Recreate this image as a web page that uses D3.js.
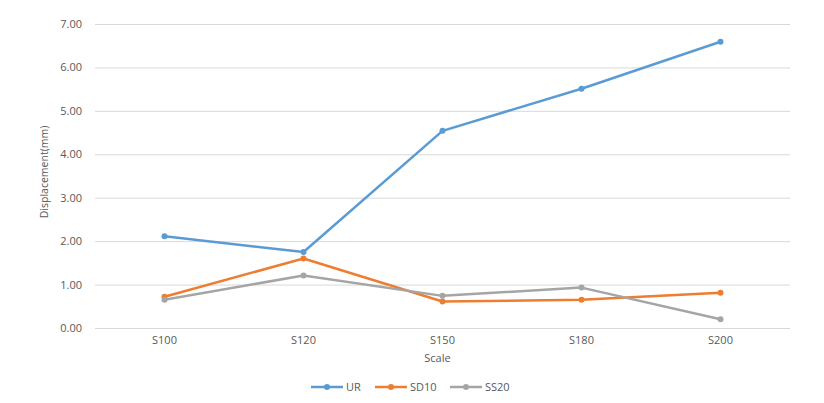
<!DOCTYPE html>
<meta charset="utf-8">
<script src="https://d3js.org/d3.v7.min.js"></script>
<style>
  body { margin: 0; background: #fff; }
  text { font-family: "Open Sans", "Noto Sans", sans-serif; fill: #595959; }
</style>
<div id="my_dataviz"></div>
<script>

  // data
  var categories = ["S100", "S120", "S150", "S180", "S200"];
  var seriesNames = ["UR", "SD10", "SS20"];
  var ur = [2.11, 1.75, 4.54, 5.51, 6.59];
  var sd10 = [0.72, 1.60, 0.61, 0.65, 0.81];
  var ss20 = [0.65, 1.21, 0.74, 0.93, 0.20];
  var yTicks = [0, 1, 2, 3, 4, 5, 6, 7];
  var colors = ["#5B9BD5", "#ED7D31", "#A5A5A5"];

  var series = [ur, sd10, ss20].map(function (v, i) {
    return { name: seriesNames[i], values: v, color: colors[i] };
  });

  var W = 824, H = 403;
  var margin = { top: 24, right: 34, bottom: 75, left: 95 },
    width = W - margin.left - margin.right,
    height = H - margin.top - margin.bottom;

  var svg = d3.select("#my_dataviz")
    .append("svg")
    .attr("width", W)
    .attr("height", H);

  var g = svg.append("g")
    .attr("transform", "translate(" + margin.left + "," + margin.top + ")");

  var x = d3.scaleBand()
    .domain(categories)
    .range([0, width]);

  var y = d3.scaleLinear()
    .domain([0, 7])
    .range([height, 0]);

  // gridlines + y labels
  var yAxis = g.append("g")
    .call(d3.axisLeft(y).tickValues(yTicks).tickSize(-width).tickPadding(13)
      .tickFormat(d3.format(".2f")));
  yAxis.select(".domain").remove();
  yAxis.selectAll("line").attr("stroke", "#d9d9d9");
  yAxis.selectAll("text").style("font-size", "11px").attr("fill", "#595959");

  // x labels
  var xAxis = g.append("g")
    .attr("transform", "translate(0," + height + ")")
    .call(d3.axisBottom(x).tickSize(0).tickPadding(8));
  xAxis.select(".domain").remove();
  xAxis.selectAll("text").style("font-size", "11px").attr("fill", "#595959");

  // axis titles
  svg.append("text")
    .attr("transform", "translate(48," + (margin.top + height / 2 - 4) + ") rotate(-90)")
    .attr("text-anchor", "middle")
    .style("font-size", "10.5px")
    .text("Displacement(mm)");

  svg.append("text")
    .attr("x", margin.left + width / 2 - 5)
    .attr("y", 362)
    .attr("text-anchor", "middle")
    .style("font-size", "11px")
    .text("Scale");

  var line = d3.line()
    .x(function (d, i) { return x(categories[i]) + x.bandwidth() / 2; })
    .y(function (d) { return y(d); });

  series.forEach(function (s) {
    g.append("path")
      .datum(s.values)
      .attr("fill", "none")
      .attr("stroke", s.color)
      .attr("stroke-width", 2.5)
      .attr("stroke-linejoin", "round")
      .attr("d", line);
    g.selectAll(null)
      .data(s.values)
      .enter()
      .append("circle")
      .attr("cx", function (d, i) { return x(categories[i]) + x.bandwidth() / 2; })
      .attr("cy", function (d) { return y(d); })
      .attr("r", 3)
      .attr("fill", s.color);
  });

  // legend
  var legendX = [311, 375, 450];
  var legend = svg.append("g").attr("transform", "translate(0,387)");
  series.forEach(function (s, i) {
    var lg = legend.append("g").attr("transform", "translate(" + legendX[i] + ",0)");
    lg.append("line").attr("x1", 0).attr("x2", 32).attr("stroke", s.color).attr("stroke-width", 2.5);
    lg.append("circle").attr("cx", 16).attr("r", 3).attr("fill", s.color);
    lg.append("text").attr("x", 35).attr("dy", "0.35em").style("font-size", "11px").text(s.name);
  });

</script>
